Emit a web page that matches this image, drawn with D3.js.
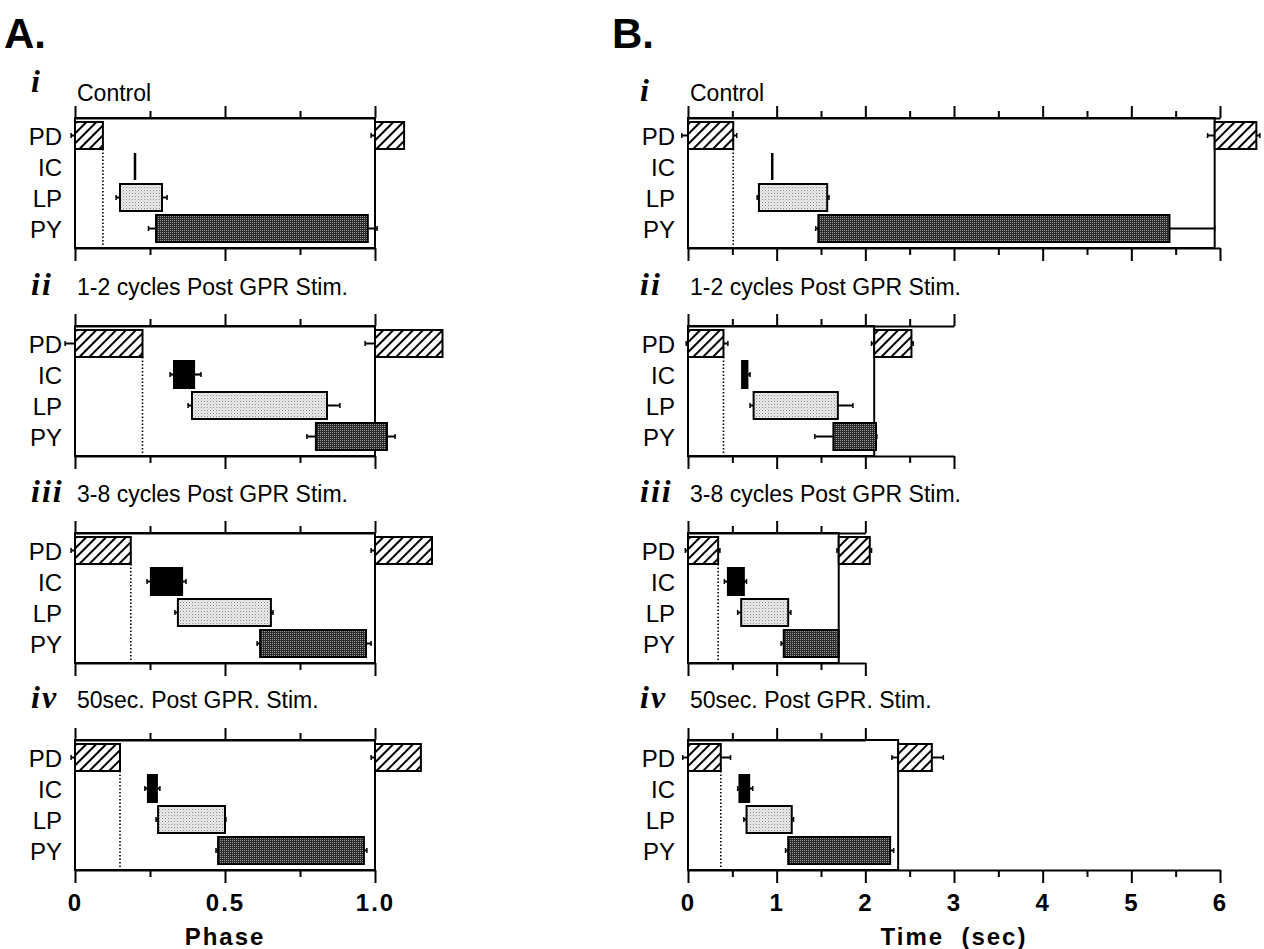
<!DOCTYPE html>
<html>
<head>
<meta charset="utf-8">
<script src="https://cdn.jsdelivr.net/npm/d3@7"></script>
<style>
    body { margin: 0; background: #fff; }
    svg text { font-family: "Liberation Sans", Arial, Helvetica, sans-serif; fill: #000; }
    .numeral { font-family: "Liberation Serif", "Times New Roman", serif; font-weight: bold; font-style: italic; font-size: 32px; letter-spacing: 2px; }
    .title { font-size: 23px; }
    .row-label { font-size: 24px; }
    .letter { font-size: 42px; font-weight: bold; }
    .axis-title { font-size: 24px; font-weight: bold; letter-spacing: 2px; white-space: pre; }
</style>
</head>
<body>
<div id="chart"></div>
<script>
/* * * * * * * * * * * * * *
*   data   *
* * * * * * * * * * * * * */
let neurons = ["PD", "IC", "LP", "PY"]
let panelNumerals = ["i", "ii", "iii", "iv"]
let panelTitles = ["Control", "1-2 cycles Post GPR Stim.", "3-8 cycles Post GPR Stim.", "50sec. Post GPR. Stim."]

// each row: [burst start, burst end, error left, error right], rows in order PD, IC, LP, PY
let phaseControl = [[0, 0.093, -0.013, 0.093], [0.2, 0.2, 0.2, 0.2], [0.15, 0.29, 0.137, 0.307], [0.27, 0.976, 0.245, 1.007]]
let phase12 = [[0, 0.225, -0.033, 0.225], [0.33, 0.397, 0.317, 0.42], [0.39, 0.84, 0.377, 0.883], [0.803, 1.04, 0.773, 1.067]]
let phase38 = [[0, 0.186, -0.013, 0.186], [0.253, 0.357, 0.24, 0.37], [0.343, 0.653, 0.333, 0.66], [0.617, 0.97, 0.607, 0.987]]
let phase50 = [[0, 0.15, -0.013, 0.15], [0.243, 0.273, 0.233, 0.283], [0.277, 0.5, 0.27, 0.503], [0.477, 0.963, 0.47, 0.973]]
let phaseNextPD = [[1.0, 1.097, 0.987, 1.097], [1.0, 1.225, 0.967, 1.225], [1.0, 1.19, 0.987, 1.19], [1.0, 1.153, 0.987, 1.153]]
let phasePeriod = [1, 1, 1, 1]
let phaseAxisTop = [1, 1, 1, 1]
let phaseAxisBottom = [1, 1, 1, 1]
let phaseTicks = [0, 0.25, 0.5, 0.75, 1.0]
let phaseTickLabels = ["0", "", "0.5", "", "1.0"]

let timeControl = [[0, 0.51, -0.07, 0.55], [0.95, 0.95, 0.95, 0.95], [0.80, 1.57, 0.78, 1.59], [1.47, 5.43, 1.44, 5.94]]
let time12 = [[0, 0.40, -0.02, 0.45], [0.61, 0.67, 0.61, 0.70], [0.74, 1.69, 0.70, 1.86], [1.64, 2.12, 1.43, 2.13]]
let time38 = [[0, 0.34, -0.03, 0.36], [0.45, 0.63, 0.41, 0.66], [0.60, 1.13, 0.56, 1.16], [1.08, 1.70, 1.05, 1.70]]
let time50 = [[0, 0.37, -0.06, 0.48], [0.58, 0.69, 0.56, 0.73], [0.66, 1.17, 0.63, 1.19], [1.13, 2.28, 1.10, 2.32]]
let timeNextPD = [[5.94, 6.41, 5.86, 6.45], [2.1, 2.52, 2.07, 2.54], [1.70, 2.05, 1.68, 2.07], [2.37, 2.75, 2.30, 2.88]]
let timePeriod = [5.94, 2.1, 1.70, 2.37]
let timeAxisTop = [6, 3, 2, 2]
let timeAxisBottom = [6, 3, 2, 6]
let timeTicks = [0, 0.5, 1, 1.5, 2, 2.5, 3, 3.5, 4, 4.5, 5, 5.5, 6]
let timeTickLabels = ["0", "", "1", "", "2", "", "3", "", "4", "", "5", "", "6"]

let neuronFills = ["url(#hatch)", "#000", "url(#lightDots)", "url(#darkDots)"]

/* * * * * * * * * * * * * *
*     class BurstPanel     *
* * * * * * * * * * * * * */
class BurstPanel {
    constructor(svg, x, opts) {
        this.svg = svg
        this.x = x
        this.opts = opts
        this.initVis()
    }

    initVis() {
        let vis = this
        vis.height = 130
        vis.g = vis.svg.append("g").attr("transform", `translate(0, ${vis.opts.top})`)
        vis.y = d3.scalePoint().domain(neurons).range([17.5, 110.5])
        vis.barH = 27

        this.drawAxes()
        this.updateVis()
    }

    isMajor(d) {
        let r = d / this.opts.majorStep
        return Math.abs(r - Math.round(r)) < 1e-6
    }

    drawAxes() {
        let vis = this
        let o = vis.opts

        let topScale = vis.x.copy().domain([0, o.axisTop]).range([vis.x(0), vis.x(o.axisTop)])
        let topAxis = vis.g.append("g")
            .call(d3.axisTop(topScale).tickValues(o.ticks.filter(t => t <= o.axisTop + 1e-9)).tickSize(12).tickSizeOuter(0).tickFormat(""))
        topAxis.selectAll(".tick line").attr("y2", d => vis.isMajor(d) ? -12 : -7)

        let botScale = vis.x.copy().domain([0, o.axisBottom]).range([vis.x(0), vis.x(o.axisBottom)])
        let botAxis = vis.g.append("g")
            .attr("transform", `translate(0, ${vis.height})`)
            .call(d3.axisBottom(botScale).tickValues(o.ticks.filter(t => t <= o.axisBottom + 1e-9)).tickSize(12).tickSizeOuter(0).tickPadding(12)
                .tickFormat((d, i) => o.showLabels ? o.tickLabels[i] : ""))
        botAxis.selectAll(".tick line").attr("y2", d => vis.isMajor(d) ? 13 : 7)
        botAxis.selectAll(".tick text")
            .style("font-family", "'Liberation Sans', Arial, sans-serif")
            .style("font-size", "24px").style("font-weight", "bold").style("letter-spacing", "2px")

        vis.g.selectAll(".domain, .tick line").attr("stroke", "#000").attr("stroke-width", 2)

        // box of one cycle
        vis.g.append("rect")
            .attr("x", vis.x(0)).attr("y", 0)
            .attr("width", vis.x(o.period) - vis.x(0)).attr("height", vis.height)
            .attr("fill", "none").attr("stroke", "#000").attr("stroke-width", 2)

        // labels
        vis.g.append("text").attr("class", "numeral")
            .attr("x", o.numeralX).attr("y", -o.numeralGap).text(o.numeral)
        vis.g.append("text").attr("class", "title")
            .attr("x", vis.x(0) + 2).attr("y", -o.titleGap).text(o.title)
        vis.g.selectAll(".row-label").data(neurons).enter().append("text")
            .attr("class", "row-label")
            .attr("x", vis.x(0) - 13).attr("y", d => vis.y(d) + 9)
            .attr("text-anchor", "end").text(d => d)
    }

    drawBurst(row, fill, yc) {
        let vis = this
        let x0 = vis.x(row[0]), x1 = vis.x(row[1])
        let e0 = vis.x(row[2]), e1 = vis.x(row[3])
        let w = Math.max(x1 - x0, 2.5)

        vis.g.append("line")
            .attr("x1", e0).attr("x2", e1).attr("y1", yc).attr("y2", yc)
            .attr("stroke", "#000").attr("stroke-width", 2.2)
        ;[[e0, row[2] < row[0]], [e1, row[3] > row[1]]].forEach(c => {
            if (c[1]) {
                vis.g.append("line")
                    .attr("x1", c[0]).attr("x2", c[0]).attr("y1", yc - 2.5).attr("y2", yc + 2.5)
                    .attr("stroke", "#000").attr("stroke-width", 1.5)
            }
        })
        vis.g.append("rect")
            .attr("x", x0 - (w - (x1 - x0)) / 2).attr("y", yc - vis.barH / 2)
            .attr("width", w).attr("height", vis.barH)
            .attr("fill", fill)
            .attr("stroke", "#000").attr("stroke-width", row[0] === row[1] ? 0 : 2)
    }

    updateVis() {
        let vis = this
        let o = vis.opts

        // dotted line at end of PD burst
        vis.g.append("line")
            .attr("x1", vis.x(o.rows[0][1])).attr("x2", vis.x(o.rows[0][1]))
            .attr("y1", vis.y("PD") + vis.barH / 2).attr("y2", vis.height)
            .attr("stroke", "#000").attr("stroke-width", 1.6).attr("stroke-dasharray", "1.5,2")

        o.rows.forEach((row, i) => vis.drawBurst(row, neuronFills[i], vis.y(neurons[i])))
        vis.drawBurst(o.nextPD, neuronFills[0], vis.y("PD"))
    }
}

/* * * * * * * * * * * * * *
*          main            *
* * * * * * * * * * * * * */
let svg = d3.select("#chart").append("svg").attr("width", 1264).attr("height", 949)

let defs = svg.append("defs")
let hatch = defs.append("pattern").attr("id", "hatch").attr("patternUnits", "userSpaceOnUse")
    .attr("width", 7).attr("height", 7).attr("patternTransform", "rotate(45)")
hatch.append("rect").attr("width", 7).attr("height", 7).attr("fill", "#fff")
hatch.append("line").attr("x1", 1).attr("x2", 1).attr("y1", 0).attr("y2", 7).attr("stroke", "#000").attr("stroke-width", 2)

let light = defs.append("pattern").attr("id", "lightDots").attr("patternUnits", "userSpaceOnUse").attr("width", 3).attr("height", 3)
light.append("rect").attr("width", 3).attr("height", 3).attr("fill", "#ececec")
light.append("rect").attr("width", 1).attr("height", 1).attr("fill", "#8a8a8a")
light.append("rect").attr("x", 1.5).attr("y", 1.5).attr("width", 1).attr("height", 1).attr("fill", "#b5b5b5")

let dark = defs.append("pattern").attr("id", "darkDots").attr("patternUnits", "userSpaceOnUse").attr("width", 2).attr("height", 2)
dark.append("rect").attr("width", 2).attr("height", 2).attr("fill", "#2b2b2b")
dark.append("rect").attr("width", 1).attr("height", 1).attr("fill", "#9a9a9a")

let panelTops = [118, 326, 533, 740]
let titleGaps = [17, 31, 31, 32]

let xPhase = d3.scaleLinear().domain([0, 1]).range([75, 375])
let xTime = d3.scaleLinear().domain([0, 6]).range([688, 1220])

let phaseRows = [phaseControl, phase12, phase38, phase50]
let timeRows = [timeControl, time12, time38, time50]

phaseRows.forEach((rows, i) => new BurstPanel(svg, xPhase, {
    top: panelTops[i], rows: rows, nextPD: phaseNextPD[i], period: phasePeriod[i],
    axisTop: phaseAxisTop[i], axisBottom: phaseAxisBottom[i], ticks: phaseTicks, tickLabels: phaseTickLabels,
    majorStep: 0.5, showLabels: i === 3, numeral: panelNumerals[i], title: panelTitles[i],
    numeralX: 31, numeralGap: i === 0 ? 26 : titleGaps[i], titleGap: titleGaps[i]
}))

timeRows.forEach((rows, i) => new BurstPanel(svg, xTime, {
    top: panelTops[i], rows: rows, nextPD: timeNextPD[i], period: timePeriod[i],
    axisTop: timeAxisTop[i], axisBottom: timeAxisBottom[i], ticks: timeTicks, tickLabels: timeTickLabels,
    majorStep: 1, showLabels: i === 3, numeral: panelNumerals[i], title: panelTitles[i],
    numeralX: 640, numeralGap: titleGaps[i], titleGap: titleGaps[i]
}))

svg.append("text").attr("class", "letter").attr("x", 4).attr("y", 48).text("A.")
svg.append("text").attr("class", "letter").attr("x", 612).attr("y", 48).text("B.")
svg.append("text").attr("class", "axis-title").attr("x", xPhase(0.5)).attr("y", 945).attr("text-anchor", "middle").text("Phase")
svg.append("text").attr("class", "axis-title").attr("x", xTime(3)).attr("y", 945).attr("text-anchor", "middle").text("Time  (sec)")
</script>
</body>
</html>
